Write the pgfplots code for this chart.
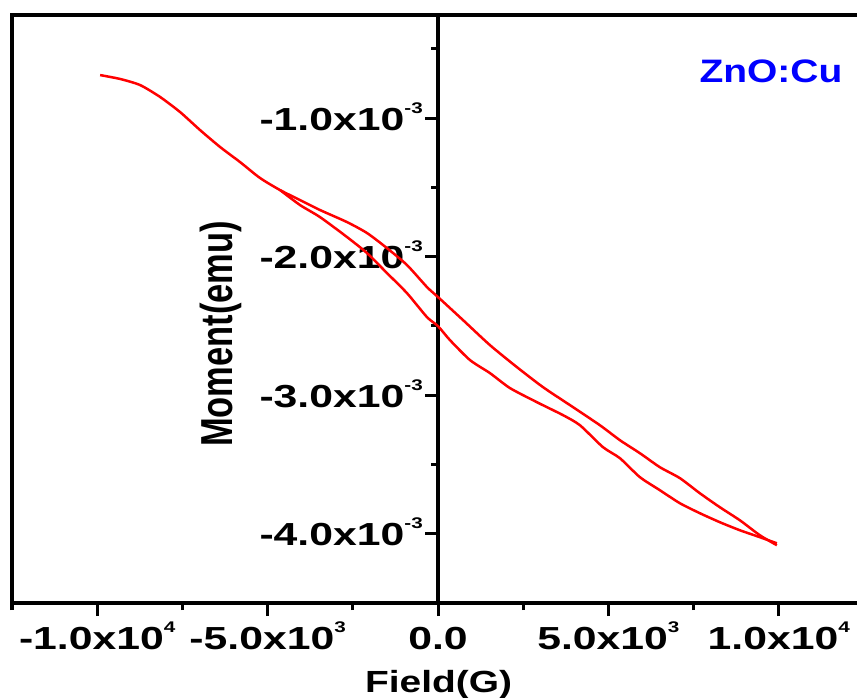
\documentclass[border=0pt]{standalone}
\usepackage{fontspec}
\setmainfont{Liberation Sans}[FakeStretch=1.2]
\newfontfamily\plainfont{Liberation Sans}
\newfontfamily\tickfont{Liberation Sans}[FakeStretch=1.34]
\usepackage{pgfplots}
\pgfplotsset{compat=1.18}
\newcommand{\tl}[2]{#1x10\raisebox{17bp}{\fontsize{15.5}{15.5}\selectfont #2}}

\pgfplotstableread{
x y
-9914 -0.690
-9327 -0.718
-8740 -0.762
-8154 -0.848
-7567 -0.957
-6981 -1.087
-6394 -1.209
-5807 -1.318
-5221 -1.433
-4634 -1.520
-4048 -1.592
-3461 -1.664
-2669 -1.751
-2082 -1.830
-1496 -1.939
-909 -2.061
-323 -2.220
0 -2.292
733 -2.458
1525 -2.639
2317 -2.798
3080 -2.942
3872 -3.072
4751 -3.217
5338 -3.325
5925 -3.419
6511 -3.520
7098 -3.599
7684 -3.708
8271 -3.809
8858 -3.903
9444 -4.011
9943 -4.083
}\upperbranch

\pgfplotstableread{
x y
-4634 -1.520
-4048 -1.628
-3461 -1.715
-2669 -1.859
-2082 -1.975
-1496 -2.119
-909 -2.264
-323 -2.437
0 -2.502
352 -2.603
939 -2.747
1525 -2.841
2112 -2.949
2904 -3.051
3666 -3.144
4165 -3.217
4839 -3.375
5338 -3.455
5925 -3.592
6511 -3.686
7098 -3.780
7684 -3.852
8271 -3.917
8858 -3.975
9444 -4.025
9943 -4.069
}\lowerbranch

\begin{document}
\begin{tikzpicture}
\begin{axis}[
  scale only axis,
  width=852bp, height=588bp,
  xmin=-12500, xmax=12500,
  ymin=-4.5, ymax=-0.2563,
  axis x line=bottom,
  axis y line=middle,
  scaled x ticks=false,
  scaled y ticks=false,
  hide obscured x ticks=false,
  axis line style={line width=3.5bp, black, -},
  tick align=outside,
  major tick length=13bp,
  minor tick length=7bp,
  tick style={line width=3bp, black},
  xtick={-10000,-5000,0,5000,10000},
  xticklabels={{\tl{-1.0}{4}},{\tl{-5.0}{3}},{0.0},{\tl{5.0}{3}},{\tl{1.0}{4}}},
  minor xtick={-12500,-7500,-2500,2500,7500,12500},
  ytick={-4,-3,-2,-1},
  yticklabels={{\tl{-4.0}{-3}},{\tl{-3.0}{-3}},{\tl{-2.0}{-3}},{\tl{-1.0}{-3}}},
  minor ytick={-4.5,-3.5,-2.5,-1.5,-0.5},
  tick label style={font=\tickfont\fontsize{32}{32}\selectfont\bfseries},
  xticklabel style={anchor=north, text height=28bp, inner sep=0pt, yshift=-5bp},
  yticklabel style={anchor=base east, yshift=-12bp, xshift=-2bp, inner sep=0pt},
  clip=false,
]
\addplot[red, line width=2.5bp, line join=round, smooth, tension=0.4] table[x=x,y=y] {\upperbranch};
\addplot[red, line width=2.5bp, line join=round, smooth, tension=0.4] table[x=x,y=y] {\lowerbranch};
\draw[line width=3.5bp, black] (rel axis cs:0,0) -- (rel axis cs:0,1) -- (rel axis cs:1,1);
\node[anchor=center, rotate=90, inner sep=0pt] at (axis description cs:0.2447,0.4575)
  {\scalebox{1}[1.3]{\plainfont\fontsize{34.6}{34.6}\selectfont\bfseries Moment(emu)}};
\node[anchor=base, inner sep=0pt] at (axis description cs:0.5006,-0.1530)
  {\scalebox{1.06}[1]{\fontsize{30.7}{30.7}\selectfont\bfseries Field(G)}};
\node[anchor=base, inner sep=0pt, text=blue] at (axis description cs:0.8908,0.8844)
  {\fontsize{32.6}{32.6}\selectfont\bfseries ZnO:Cu};
\end{axis}
\pgfresetboundingbox
\path[use as bounding box] (-12bp,-95bp) rectangle (845bp,603bp);
\end{tikzpicture}
\end{document}
